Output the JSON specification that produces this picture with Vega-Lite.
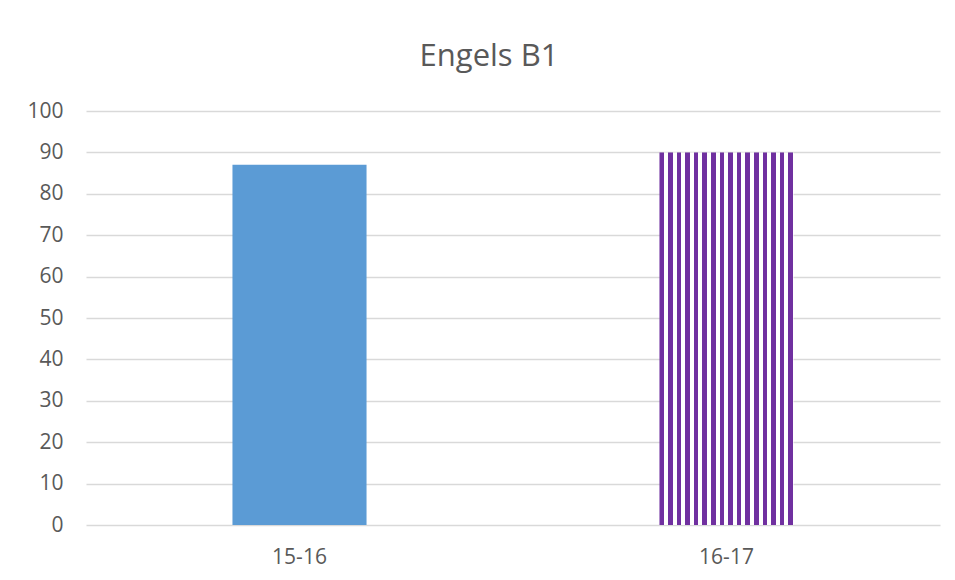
{
  "$schema": "https://vega.github.io/schema/vega-lite/v6.json",
  "autosize": "none",
  "width": 854,
  "height": 414,
  "padding": {"left": 86, "top": 111, "right": 15, "bottom": 55},
  "background": "white",
  "title": {
    "text": "Engels B1",
    "font": "Open Sans",
    "fontSize": 31,
    "fontWeight": "normal",
    "color": "#595959",
    "anchor": "middle",
    "baseline": "alphabetic",
    "offset": 3,
    "dx": -24
  },
  "data": {
    "values": [
      {"season": "15-16", "score": 87},
      {"season": "16-17", "score": 90}
    ]
  },
  "encoding": {
    "x": {
      "field": "season",
      "type": "nominal",
      "title": null,
      "scale": {"paddingInner": 0, "paddingOuter": 0},
      "axis": {
        "labelAngle": 0,
        "domain": false,
        "ticks": false,
        "labelPadding": 21,
        "labelFont": "Open Sans",
        "labelFontSize": 21,
        "labelColor": "#595959"
      }
    },
    "y": {
      "field": "score",
      "type": "quantitative",
      "title": null,
      "scale": {"domain": [0, 100]},
      "axis": {
        "values": [0, 10, 20, 30, 40, 50, 60, 70, 80, 90, 100],
        "domain": false,
        "ticks": false,
        "labelPadding": 23,
        "labelFont": "Open Sans",
        "labelFontSize": 21,
        "labelColor": "#595959",
        "gridColor": "#d9d9d9",
        "gridWidth": 1.4
      }
    }
  },
  "layer": [
    {
      "transform": [{"filter": "datum.season == '15-16'"}],
      "mark": {"type": "bar", "width": {"band": 0.314}, "fill": "#5B9BD5"}
    },
    {
      "transform": [{"filter": "datum.season == '16-17'"}],
      "mark": {
        "type": "bar",
        "width": {"band": 0.314},
        "fill": {
          "gradient": "linear",
          "x1": 0, "y1": 0, "x2": 1, "y2": 0,
          "stops": [
            {"offset": 0, "color": "#7030A0"}, {"offset": 0.034, "color": "#7030A0"},
            {"offset": 0.034, "color": "#ffffff"}, {"offset": 0.0641, "color": "#ffffff"},
            {"offset": 0.0641, "color": "#7030A0"}, {"offset": 0.0981, "color": "#7030A0"},
            {"offset": 0.0981, "color": "#ffffff"}, {"offset": 0.1282, "color": "#ffffff"},
            {"offset": 0.1282, "color": "#7030A0"}, {"offset": 0.1622, "color": "#7030A0"},
            {"offset": 0.1622, "color": "#ffffff"}, {"offset": 0.1923, "color": "#ffffff"},
            {"offset": 0.1923, "color": "#7030A0"}, {"offset": 0.2263, "color": "#7030A0"},
            {"offset": 0.2263, "color": "#ffffff"}, {"offset": 0.2564, "color": "#ffffff"},
            {"offset": 0.2564, "color": "#7030A0"}, {"offset": 0.2904, "color": "#7030A0"},
            {"offset": 0.2904, "color": "#ffffff"}, {"offset": 0.3205, "color": "#ffffff"},
            {"offset": 0.3205, "color": "#7030A0"}, {"offset": 0.3545, "color": "#7030A0"},
            {"offset": 0.3545, "color": "#ffffff"}, {"offset": 0.3846, "color": "#ffffff"},
            {"offset": 0.3846, "color": "#7030A0"}, {"offset": 0.4186, "color": "#7030A0"},
            {"offset": 0.4186, "color": "#ffffff"}, {"offset": 0.4487, "color": "#ffffff"},
            {"offset": 0.4487, "color": "#7030A0"}, {"offset": 0.4827, "color": "#7030A0"},
            {"offset": 0.4827, "color": "#ffffff"}, {"offset": 0.5128, "color": "#ffffff"},
            {"offset": 0.5128, "color": "#7030A0"}, {"offset": 0.5468, "color": "#7030A0"},
            {"offset": 0.5468, "color": "#ffffff"}, {"offset": 0.5769, "color": "#ffffff"},
            {"offset": 0.5769, "color": "#7030A0"}, {"offset": 0.6109, "color": "#7030A0"},
            {"offset": 0.6109, "color": "#ffffff"}, {"offset": 0.641, "color": "#ffffff"},
            {"offset": 0.641, "color": "#7030A0"}, {"offset": 0.675, "color": "#7030A0"},
            {"offset": 0.675, "color": "#ffffff"}, {"offset": 0.7051, "color": "#ffffff"},
            {"offset": 0.7051, "color": "#7030A0"}, {"offset": 0.7391, "color": "#7030A0"},
            {"offset": 0.7391, "color": "#ffffff"}, {"offset": 0.7692, "color": "#ffffff"},
            {"offset": 0.7692, "color": "#7030A0"}, {"offset": 0.8032, "color": "#7030A0"},
            {"offset": 0.8032, "color": "#ffffff"}, {"offset": 0.8333, "color": "#ffffff"},
            {"offset": 0.8333, "color": "#7030A0"}, {"offset": 0.8673, "color": "#7030A0"},
            {"offset": 0.8673, "color": "#ffffff"}, {"offset": 0.8974, "color": "#ffffff"},
            {"offset": 0.8974, "color": "#7030A0"}, {"offset": 0.9314, "color": "#7030A0"},
            {"offset": 0.9314, "color": "#ffffff"}, {"offset": 0.9615, "color": "#ffffff"},
            {"offset": 0.9615, "color": "#7030A0"}, {"offset": 0.9955, "color": "#7030A0"},
            {"offset": 0.9955, "color": "#ffffff"}, {"offset": 1, "color": "#ffffff"}
          ]
        }
      }
    }
  ],
  "config": {
    "view": {"stroke": null}
  }
}
